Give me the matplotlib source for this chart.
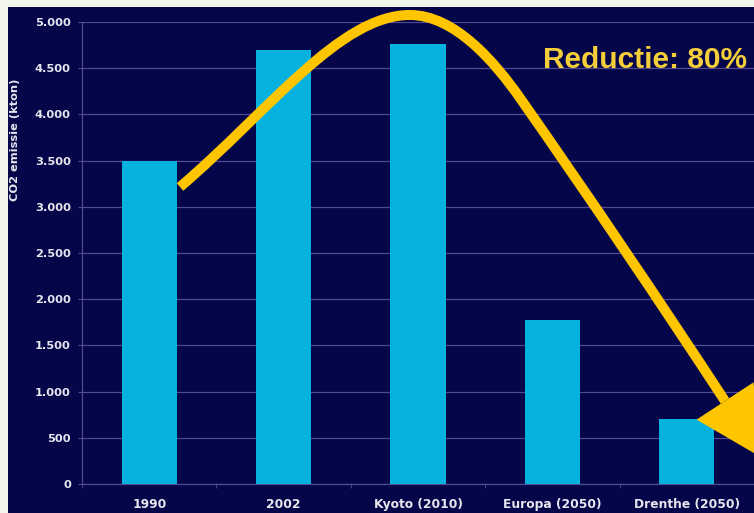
import matplotlib
matplotlib.use("Agg")
import matplotlib.pyplot as plt
from matplotlib.path import Path
from matplotlib.patches import PathPatch, Polygon, Rectangle
from matplotlib.transforms import Affine2D
from matplotlib.ticker import FuncFormatter, MultipleLocator
import numpy as np

# CO2 emissions per scenario (kton)
categories = ["1990", "2002", "Kyoto (2010)", "Europa (2050)", "Drenthe (2050)"]
emissions = [3500, 4700, 4760, 1770, 700]

W, H = 754, 513
NAVY = "#05054a"
PAPER = "#f2f5ec"
BAR = "#05b1df"
GRID = "#4f4b92"
LABEL = "#e6e6ee"
ARROW = "#ffc600"
NOTE = "#f3cd3a"

fig = plt.figure(figsize=(W / 100, H / 100), dpi=100, facecolor=PAPER)
# slide background (leaves a thin pale strip top and left)
fig.add_artist(Rectangle((8 / W, 0), 1 - 8 / W, 1 - 7 / H,
                         transform=fig.transFigure, facecolor=NAVY,
                         edgecolor="none", zorder=0))

ax = fig.add_axes([82 / W, 1 - 484 / H, 1 - 82 / W, (484 - 22) / H])
ax.set_facecolor(NAVY)

x = np.arange(len(categories))
ax.bar(x, emissions, width=0.41, color=BAR, zorder=3)

ax.set_xlim(-0.5, len(categories) - 0.5)
ax.set_ylim(0, 5000)
ax.yaxis.set_major_locator(MultipleLocator(500))
ax.yaxis.set_major_formatter(FuncFormatter(lambda v, _: f"{v:,.0f}".replace(",", ".")))
ax.grid(axis="y", color=GRID, linewidth=0.9, zorder=1)

ax.set_xticks(x)
ax.set_xticklabels(categories)
ax.set_xticks(np.arange(len(categories) + 1) - 0.5, minor=True)
ax.tick_params(axis="x", which="major", length=0, pad=10)
ax.tick_params(axis="x", which="minor", length=3, color=GRID)
ax.tick_params(axis="y", length=3, color=GRID, pad=5)
for lbl in ax.get_yticklabels():
    lbl.set_color(LABEL)
    lbl.set_fontweight("bold")
    lbl.set_fontsize(8.2)
for lbl in ax.get_xticklabels():
    lbl.set_color(LABEL)
    lbl.set_fontweight("bold")
    lbl.set_fontsize(8.8)

for side in ("top", "right"):
    ax.spines[side].set_visible(False)
for side in ("left", "bottom"):
    ax.spines[side].set_color(GRID)
    ax.spines[side].set_linewidth(0.9)

ax.set_ylabel("CO2 emissie (kton)", color=LABEL, fontweight="bold", fontsize=8.2)
ax.yaxis.set_label_coords(-0.092, 0.745)

# curved arrow overlay, laid out in pixel space (origin top-left)
px = Affine2D().scale(1 / W, -1 / H).translate(0, 1) + fig.transFigure
curve = Path(
    [(180, 187), (270, 110), (340, 15), (410, 15),
     (455, 15), (495.5, 63), (520, 98),
     (590, 198), (659.5, 301), (725, 401)],
    [Path.MOVETO] + [Path.CURVE4] * 9,
)
ax.add_patch(PathPatch(curve, transform=px, facecolor="none", edgecolor=ARROW,
                       linewidth=7.2, capstyle="butt", clip_on=False, zorder=5))

base = np.array([725.0, 401.0])
d = np.array([0.548, 0.837])
n = np.array([d[1], -d[0]])
head = [base + 34 * n, base + 68 * d, base - 34 * n]
ax.add_patch(Polygon(head, closed=True, transform=px, facecolor=ARROW,
                     edgecolor="none", clip_on=False, zorder=5))

fig.text(543 / W, 1 - 60 / H, "Reductie: 80%", color=NOTE, fontsize=21.5,
         fontweight="bold", family="Liberation Sans", ha="left", va="center")

fig.savefig("out.png", dpi=100, facecolor=PAPER)
